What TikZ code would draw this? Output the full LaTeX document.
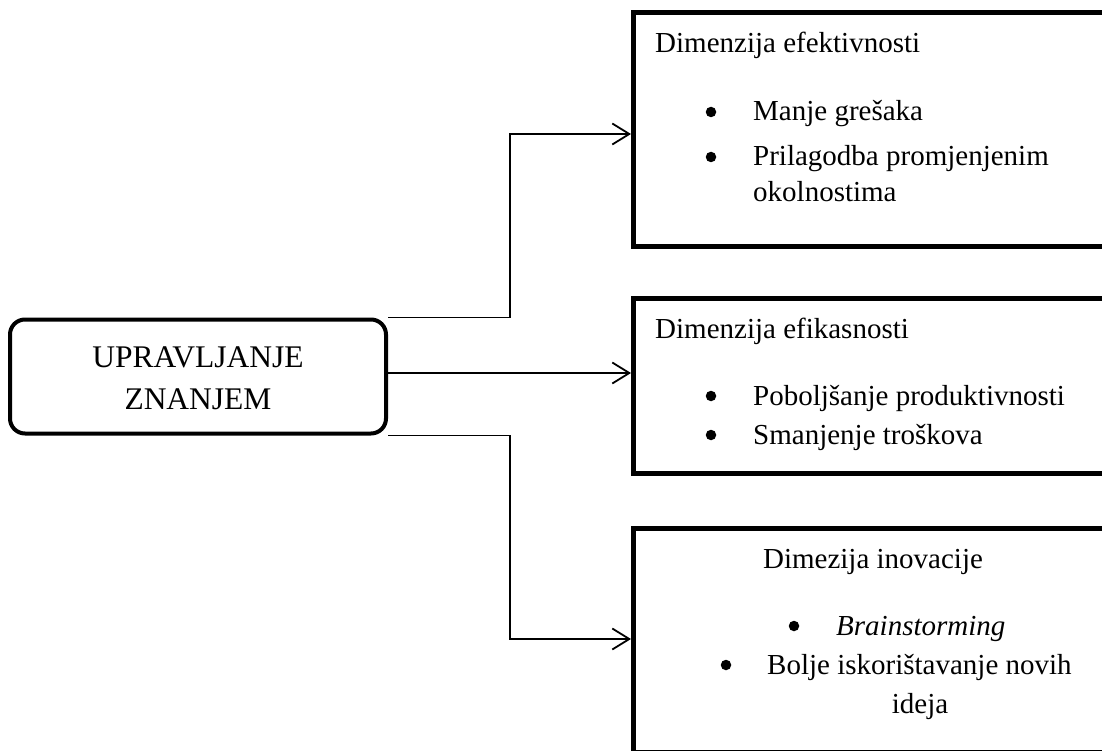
\documentclass[tikz,border=0pt]{standalone}
\usepackage{fontspec}
\setmainfont{Liberation Serif}
\usetikzlibrary{arrows.meta}

\begin{document}
\begin{tikzpicture}
    [x=1pt,y=-1pt,inner sep=0pt,
     dimbox/.style={draw,line width=5pt,rectangle},
     txt/.style={anchor=base west,font=\fontsize{29}{35}\selectfont},
     ctxt/.style={anchor=base,font=\fontsize{29}{35}\selectfont},
     blt/.style={circle,fill,minimum size=10.5pt},
     link/.style={line width=1.8pt,-{Straight Barb[length=17pt,width=21pt,line width=1.8pt]}}]
    \useasboundingbox (0,0) rectangle (1102,751);
    \clip (0,0) rectangle (1102,751);
    % glavni pojam
    \node (uz) at (198,376.5) [draw,line width=4pt,rounded corners=15pt,minimum width=376pt,minimum height=114pt] {};
    \node (uz1) at (198,367) [ctxt,font=\fontsize{31.5}{38}\selectfont] {UPRAVLJANJE};
    \node (uz2) at (198,409) [ctxt,font=\fontsize{31.5}{38}\selectfont] {ZNANJEM};
    % dimenzije
    \node (d1) at (874,130) [dimbox,minimum width=482pt,minimum height=234pt] {};
    \node (d2) at (874,385.5) [dimbox,minimum width=482pt,minimum height=175pt] {};
    \node (d3) at (874,640) [dimbox,minimum width=482pt,minimum height=224pt] {};
    \node (t1) at (655,53) [txt] {Dimenzija efektivnosti};
    \node (b11) at (711,112) [blt] {};
    \node (i11) at (753,121) [txt] {Manje grešaka};
    \node (b12) at (711,157) [blt] {};
    \node (i12) at (753,166) [txt] {Prilagodba promjenjenim};
    \node (i13) at (753,202) [txt] {okolnostima};
    \node (t2) at (655,338) [txt] {Dimenzija efikasnosti};
    \node (b21) at (711,396) [blt] {};
    \node (i21) at (753,405) [txt] {Poboljšanje produktivnosti};
    \node (b22) at (711,435) [blt] {};
    \node (i22) at (753,444) [txt] {Smanjenje troškova};
    \node (t3) at (873,568) [ctxt] {Dimezija inovacije};
    \node (b31) at (794,626) [blt] {};
    \node (i31) at (836,635) [txt] {\textit{Brainstorming}};
    \node (b32) at (726,665) [blt] {};
    \node (i32) at (767,674) [txt] {Bolje iskorištavanje novih};
    \node (i33) at (920,713) [ctxt] {ideja};
    % veze
    \coordinate (in1) at (631,134);
    \coordinate (in2) at (631,373);
    \coordinate (in3) at (631,639);
    \draw [link] (uz.north east) -- ++(122,0) |- (in1);
    \draw [link] (uz.east |- in2) to (in2);
    \draw [link] (uz.south east) -- ++(122,0) |- (in3);
  \end{tikzpicture}
\end{document}
